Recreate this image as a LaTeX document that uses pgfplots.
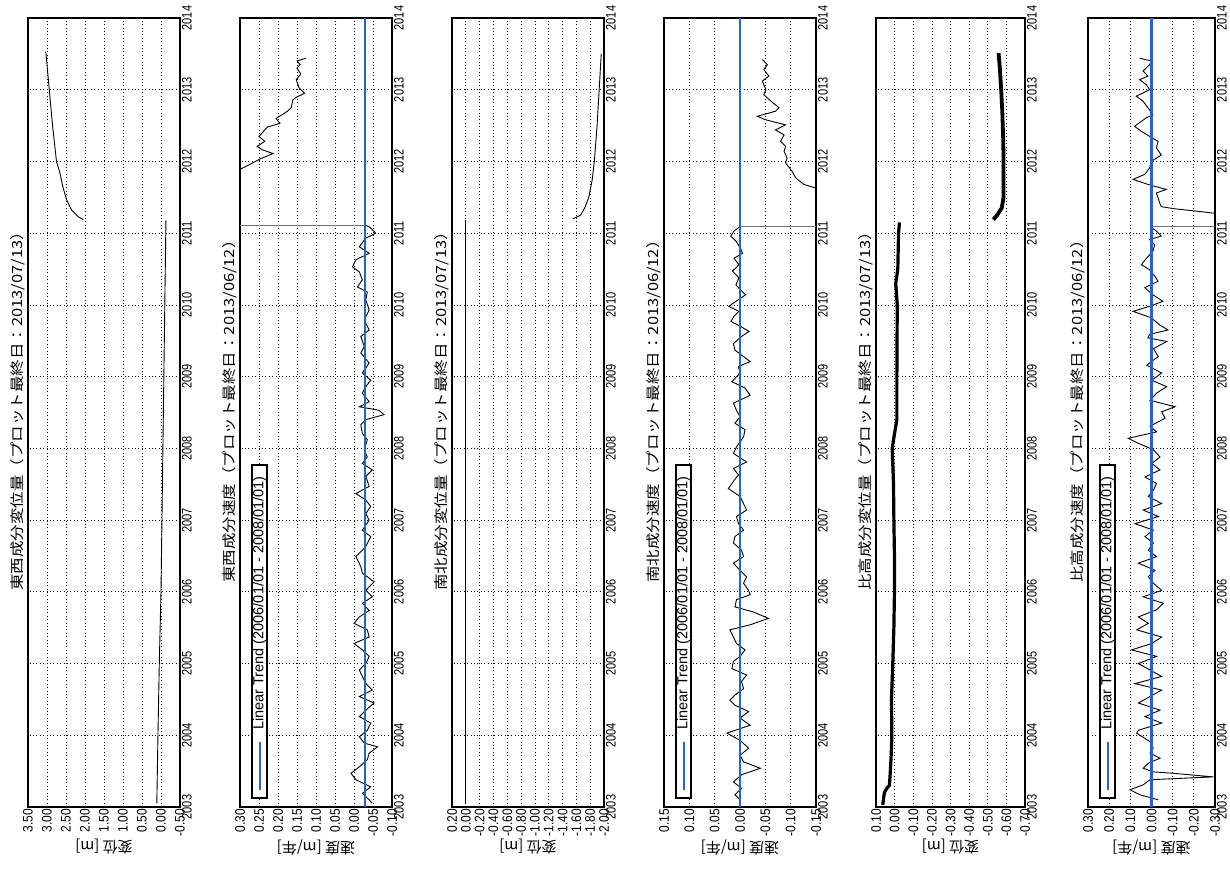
\documentclass[border=0pt]{standalone}
\usepackage{fontspec}
\setmainfont{Liberation Sans}
\newfontfamily\jp{Noto Sans CJK JP}
\usepackage{pgfplots}
\pgfplotsset{compat=1.18}
\definecolor{trendblue}{RGB}{45,95,205}
\pgfplotsset{
  panel/.style={
    scale only axis, height=789pt, anchor=south west,
    x dir=reverse, ymin=2003, ymax=2014,
    ytick={2003,2004,...,2014},
    yticklabels={2003,2004,2005,2006,2007,2008,2009,2010,2011,2012,2013,2014},
    yticklabel pos=right,
    every y tick label/.append style={rotate=90, yscale=1.25, anchor=north, font=\fontsize{11}{11}\selectfont, inner sep=1.5pt},
    every x tick label/.append style={rotate=90, yscale=1.15, anchor=east, font=\fontsize{12}{12}\selectfont, inner sep=1.5pt},
    major tick length=0pt,
    grid=major,
    major grid style={black, line width=0.7pt, dash pattern=on 0.8pt off 2.6pt},
    axis line style={line width=1.6pt},
    clip=false,
  },
}
\newcommand\paneltitle[1]{\node[rotate=90, yscale=0.85, anchor=south, inner sep=3pt, font=\jp\fontsize{16.5}{16.5}\selectfont] at ([yshift=5pt]axis description cs:0,0.5) {#1};}
\newcommand\panellabel[1]{\node[rotate=180, font=\jp\fontsize{15}{15}\selectfont] at ([yshift=-40pt]axis description cs:0.5,0) {#1};}
\newcommand\trendlegend{%
 \draw[black, line width=1.4pt, fill=white] ([xshift=12pt,yshift=9pt]axis description cs:0,0) rectangle ([xshift=27pt,yshift=342pt]axis description cs:0,0);
 \path[draw=trendblue, line width=2pt] ([xshift=19.5pt,yshift=17pt]axis description cs:0,0) -- ([xshift=19.5pt,yshift=65pt]axis description cs:0,0);
 \node[rotate=90, anchor=west, font=\fontsize{14.5}{14.5}\selectfont, inner sep=0pt] at ([xshift=19.5pt,yshift=77pt]axis description cs:0,0) {Linear Trend (2006/01/01 - 2008/01/01)};
}
\begin{document}
\begin{tikzpicture}
\useasboundingbox (0,0) rectangle (1230pt,870pt);
% ---------------- Panel 1: EW displacement
\begin{axis}[panel, at={(28pt,63pt)}, width=152pt,
  xmin=-0.5, xmax=3.5, xtick={-0.5,0,0.5,1,1.5,2,2.5,3,3.5},
  xticklabels={-0.50,0.00,0.50,1.00,1.50,2.00,2.50,3.00,3.50}]
\addplot[black, line width=0.9pt] coordinates {(0.11,2003.05)(0.08,2004)(0.045,2005)(0.0,2006)(-0.025,2007)(-0.05,2008)(-0.075,2009)(-0.10,2010)(-0.13,2011.18)};
\addplot[black, line width=0.9pt] coordinates {(2.05,2011.19)(2.18,2011.23)(2.35,2011.32)(2.48,2011.46)(2.58,2011.64)(2.66,2011.84)(2.75,2012.0)(2.85,2012.48)(2.94,2013.0)(3.03,2013.53)};
\paneltitle{東西成分変位量（プロット最終日：2013/07/13）}
\panellabel{変位 [m]}
\end{axis}
% ---------------- Panel 2: EW velocity
\begin{axis}[panel, at={(240pt,63pt)}, width=152pt,
  xmin=-0.1, xmax=0.3, xtick={-0.1,-0.05,0,0.05,0.1,0.15,0.2,0.25,0.3},
  xticklabels={-0.10,-0.05,0.00,0.05,0.10,0.15,0.20,0.25,0.30}]
\addplot[black, line width=0.9pt] coordinates {(-0.048,2003.05)(-0.040,2003.10)(-0.022,2003.19)(-0.044,2003.28)(-0.005,2003.38)(0.008,2003.47)(-0.014,2003.56)(-0.035,2003.66)(-0.040,2003.75)(-0.062,2003.84)(-0.027,2003.89)(-0.014,2003.98)(-0.035,2004.07)(-0.044,2004.17)(-0.014,2004.26)(-0.031,2004.35)(-0.053,2004.45)(-0.014,2004.54)(-0.048,2004.63)(-0.031,2004.72)(-0.022,2004.82)(-0.014,2004.91)(-0.031,2005.00)(-0.040,2005.10)(-0.022,2005.19)(0.000,2005.28)(-0.040,2005.37)(-0.035,2005.47)(0.000,2005.56)(-0.014,2005.65)(-0.040,2005.74)(-0.022,2005.84)(-0.048,2005.93)(-0.031,2006.02)(-0.053,2006.14)(-0.022,2006.26)(-0.018,2006.35)(-0.005,2006.49)(-0.031,2006.63)(-0.044,2006.77)(-0.022,2006.86)(-0.040,2007.00)(-0.031,2007.09)(-0.044,2007.19)(-0.031,2007.28)(-0.005,2007.37)(-0.040,2007.47)(-0.031,2007.61)(-0.048,2007.70)(-0.022,2007.79)(-0.035,2007.88)(-0.027,2007.98)(-0.035,2008.12)(-0.022,2008.21)(-0.018,2008.33)(-0.031,2008.40)(-0.079,2008.47)(-0.066,2008.53)(-0.014,2008.58)(-0.040,2008.65)(-0.022,2008.77)(-0.031,2008.86)(-0.044,2008.95)(-0.022,2009.05)(-0.040,2009.19)(-0.018,2009.33)(-0.027,2009.42)(-0.018,2009.56)(-0.040,2009.65)(-0.027,2009.79)(-0.040,2009.93)(-0.031,2010.07)(-0.035,2010.18)(-0.009,2010.25)(-0.022,2010.35)(-0.014,2010.46)(0.004,2010.53)(-0.005,2010.63)(-0.040,2010.72)(-0.014,2010.81)(-0.031,2010.93)(-0.057,2011.00)(-0.040,2011.09)(-0.029,2011.11)};
\addplot[black!55, line width=0.7pt] coordinates {(-0.029,2011.11)(0.30,2011.11)};
\addplot[black, line width=0.9pt] coordinates {(0.300,2011.89)(0.296,2011.90)(0.270,2011.97)(0.245,2012.04)(0.213,2012.11)(0.240,2012.16)(0.255,2012.21)(0.235,2012.28)(0.250,2012.35)(0.238,2012.42)(0.228,2012.48)(0.195,2012.53)(0.205,2012.60)(0.190,2012.65)(0.175,2012.70)(0.165,2012.75)(0.161,2012.86)(0.150,2012.90)(0.130,2012.95)(0.145,2013.03)(0.152,2013.14)(0.140,2013.22)(0.150,2013.30)(0.142,2013.35)(0.150,2013.40)(0.126,2013.44)};
\addplot[draw=trendblue, solid, line width=2.1pt, forget plot] coordinates {(-0.03,2003)(-0.03,2008.5)(-0.03,2014)};
\paneltitle{東西成分速度（プロット最終日：2013/06/12）}
\panellabel{速度 [m/年]}
\trendlegend
\end{axis}
% ---------------- Panel 3: NS displacement
\begin{axis}[panel, at={(452pt,63pt)}, width=152pt,
  xmin=-2, xmax=0.2, xtick={-2,-1.8,-1.6,-1.4,-1.2,-1,-0.8,-0.6,-0.4,-0.2,0,0.2},
  xticklabels={-2.00,-1.80,-1.60,-1.40,-1.20,-1.00,-0.80,-0.60,-0.40,-0.20,0.00,0.20}]
\addplot[black, line width=0.9pt] coordinates {(0.0,2003.05)(0.0,2007)(0.0,2011.18)};
\addplot[black, line width=0.9pt] coordinates {(-1.55,2011.20)(-1.66,2011.25)(-1.72,2011.35)(-1.78,2011.5)(-1.83,2011.75)(-1.86,2012)(-1.90,2012.5)(-1.93,2013)(-1.96,2013.5)};
\paneltitle{南北成分変位量（プロット最終日：2013/07/13）}
\panellabel{変位 [m]}
\end{axis}
% ---------------- Panel 4: NS velocity
\begin{axis}[panel, at={(664pt,63pt)}, width=152pt,
  xmin=-0.15, xmax=0.15, xtick={-0.15,-0.1,-0.05,0,0.05,0.1,0.15},
  xticklabels={-0.15,-0.10,-0.05,0.00,0.05,0.10,0.15}]
\addplot[black, line width=0.9pt] coordinates {(0.000,2003.10)(0.010,2003.17)(-0.003,2003.26)(0.013,2003.35)(-0.003,2003.45)(-0.040,2003.54)(-0.007,2003.63)(0.000,2003.72)(-0.017,2003.82)(0.000,2003.93)(0.026,2004.03)(-0.020,2004.14)(0.000,2004.24)(-0.017,2004.33)(0.010,2004.42)(0.020,2004.49)(0.010,2004.56)(-0.007,2004.65)(-0.003,2004.75)(-0.013,2004.84)(0.016,2004.93)(0.013,2005.03)(0.000,2005.10)(-0.010,2005.19)(0.007,2005.28)(0.013,2005.37)(0.020,2005.47)(-0.020,2005.54)(-0.056,2005.63)(-0.026,2005.72)(0.010,2005.79)(0.007,2005.89)(-0.020,2005.96)(-0.017,2006.02)(-0.007,2006.12)(-0.013,2006.21)(0.000,2006.30)(0.013,2006.40)(-0.007,2006.49)(-0.003,2006.58)(0.013,2006.68)(0.010,2006.77)(-0.007,2006.86)(0.003,2006.95)(0.007,2007.05)(-0.013,2007.14)(-0.007,2007.23)(0.000,2007.33)(0.023,2007.44)(0.013,2007.54)(0.003,2007.63)(0.013,2007.72)(-0.013,2007.81)(0.013,2007.93)(0.007,2008.02)(-0.007,2008.16)(-0.010,2008.26)(0.010,2008.35)(0.000,2008.44)(0.007,2008.53)(0.013,2008.63)(-0.020,2008.74)(-0.010,2008.84)(0.016,2008.93)(0.000,2009.05)(0.003,2009.14)(-0.020,2009.21)(-0.007,2009.28)(0.010,2009.37)(0.013,2009.46)(-0.003,2009.56)(-0.018,2009.63)(-0.001,2009.70)(0.018,2009.77)(0.012,2009.84)(0.002,2009.91)(0.022,2009.98)(0.008,2010.05)(-0.011,2010.14)(-0.001,2010.21)(0.008,2010.28)(0.002,2010.38)(0.015,2010.47)(0.002,2010.56)(0.012,2010.65)(-0.005,2010.72)(-0.001,2010.79)(0.008,2010.89)(0.018,2010.96)(0.012,2011.03)(0.000,2011.09)};
\addplot[black!55, line width=0.7pt] coordinates {(0.0,2011.10)(-0.15,2011.10)};
\addplot[black, line width=0.9pt] coordinates {(-0.150,2011.62)(-0.149,2011.63)(-0.126,2011.68)(-0.110,2011.77)(-0.103,2011.86)(-0.090,2011.98)(-0.093,2012.05)(-0.087,2012.14)(-0.090,2012.21)(-0.080,2012.28)(-0.087,2012.37)(-0.070,2012.44)(-0.090,2012.51)(-0.051,2012.58)(-0.034,2012.63)(-0.070,2012.70)(-0.077,2012.75)(-0.061,2012.84)(-0.047,2012.93)(-0.051,2013.00)(-0.044,2013.12)(-0.057,2013.19)(-0.047,2013.28)(-0.054,2013.35)(-0.044,2013.42)};
\addplot[draw=trendblue, solid, line width=2.1pt, forget plot] coordinates {(0,2003)(0,2008.5)(0,2014)};
\paneltitle{南北成分速度（プロット最終日：2013/06/12）}
\panellabel{速度 [m/年]}
\trendlegend
\end{axis}
% ---------------- Panel 5: vertical displacement
\begin{axis}[panel, at={(876pt,63pt)}, width=149pt,
  xmin=-0.7, xmax=0.1, xtick={-0.7,-0.6,-0.5,-0.4,-0.3,-0.2,-0.1,0,0.1},
  xticklabels={-0.70,-0.60,-0.50,-0.40,-0.30,-0.20,-0.10,0.00,0.10}]
\addplot[black, line width=3.2pt, line join=round] coordinates {(0.064,2003.03)(0.060,2003.1)(0.055,2003.2)(0.040,2003.27)(0.028,2003.3)(0.023,2003.5)(0.018,2003.75)(0.015,2004)(0.017,2004.5)(0.010,2005)(0.004,2005.5)(0.001,2006)(0.001,2006.5)(0.004,2007)(0.006,2007.5)(0.013,2008)(0.001,2008.2)(-0.012,2008.4)(-0.012,2009)(-0.013,2009.5)(-0.014,2010)(-0.006,2010.3)(-0.017,2010.5)(-0.021,2011)(-0.026,2011.15)};
\addplot[black, line width=3.8pt, line join=round] coordinates {(-0.530,2011.19)(-0.55,2011.25)(-0.575,2011.35)(-0.585,2011.5)(-0.585,2011.7)(-0.585,2012)(-0.583,2012.3)(-0.578,2012.7)(-0.572,2013)(-0.565,2013.3)(-0.558,2013.51)};
\paneltitle{比高成分変位量（プロット最終日：2013/07/13）}
\panellabel{変位 [m]}
\end{axis}
% ---------------- Panel 6: vertical velocity
\begin{axis}[panel, at={(1088pt,63pt)}, width=127pt,
  xmin=-0.3, xmax=0.3, xtick={-0.3,-0.2,-0.1,0,0.1,0.2,0.3},
  xticklabels={-0.30,-0.20,-0.10,0.00,0.10,0.20,0.30}]
\addplot[black, line width=0.9pt] coordinates {(-0.032,2003.10)(0.054,2003.17)(0.102,2003.24)(0.039,2003.31)(0.007,2003.38)(-0.292,2003.42)(-0.103,2003.47)(-0.008,2003.49)(0.039,2003.54)(0.015,2003.61)(-0.040,2003.68)(0.007,2003.75)(-0.008,2003.82)(0.007,2003.91)(0.070,2004.03)(0.062,2004.07)(-0.048,2004.17)(0.031,2004.26)(-0.040,2004.35)(0.062,2004.45)(0.007,2004.54)(-0.048,2004.63)(0.078,2004.72)(-0.048,2004.82)(0.007,2004.91)(0.062,2005.00)(-0.024,2005.10)(0.094,2005.19)(-0.001,2005.28)(-0.048,2005.37)(0.070,2005.47)(0.015,2005.56)(0.062,2005.65)(-0.024,2005.75)(-0.056,2005.84)(0.039,2005.93)(-0.048,2006.02)(-0.009,2006.12)(0.015,2006.21)(-0.016,2006.30)(0.062,2006.40)(-0.024,2006.49)(0.015,2006.58)(-0.009,2006.68)(0.031,2006.77)(-0.009,2006.86)(0.078,2006.95)(-0.032,2007.05)(0.039,2007.14)(-0.048,2007.23)(0.015,2007.33)(-0.009,2007.42)(-0.024,2007.51)(0.031,2007.60)(-0.040,2007.70)(-0.001,2007.79)(-0.040,2007.88)(-0.009,2007.98)(0.062,2008.07)(0.110,2008.14)(-0.024,2008.23)(0.007,2008.31)(-0.064,2008.42)(-0.048,2008.51)(-0.111,2008.58)(0.007,2008.67)(-0.024,2008.77)(-0.072,2008.86)(-0.001,2008.95)(-0.048,2009.05)(0.023,2009.16)(-0.032,2009.28)(-0.009,2009.39)(-0.072,2009.49)(0.017,2009.54)(0.009,2009.59)(-0.078,2009.65)(-0.039,2009.72)(0.001,2009.82)(0.087,2009.91)(0.009,2009.98)(-0.054,2010.05)(-0.007,2010.14)(0.032,2010.24)(-0.031,2010.33)(-0.015,2010.40)(0.009,2010.49)(0.048,2010.56)(0.024,2010.65)(-0.007,2010.75)(-0.015,2010.84)(0.009,2010.91)(-0.046,2010.96)(-0.023,2011.03)(0.001,2011.08)};
\addplot[black!55, line width=0.7pt] coordinates {(0.001,2011.10)(-0.30,2011.10)};
\addplot[black, line width=0.9pt] coordinates {(-0.300,2011.275)(-0.291,2011.28)(-0.204,2011.31)(-0.109,2011.34)(-0.046,2011.37)(-0.039,2011.42)(-0.031,2011.49)(-0.023,2011.56)(-0.070,2011.61)(0.017,2011.68)(0.087,2011.75)(0.032,2011.82)(0.009,2011.91)(0.001,2012.00)(-0.046,2012.09)(-0.023,2012.19)(-0.031,2012.28)(0.009,2012.35)(0.048,2012.42)(0.080,2012.49)(0.024,2012.61)(-0.007,2012.65)(0.017,2012.75)(0.040,2012.84)(0.072,2012.91)(0.009,2013.00)(0.024,2013.07)(0.056,2013.14)(0.017,2013.19)(0.040,2013.26)(0.009,2013.35)(0.001,2013.40)(0.056,2013.44)};
\addplot[draw=trendblue, solid, line width=2.1pt, forget plot] coordinates {(0,2003)(0,2008.5)(0,2014)};
\paneltitle{比高成分速度（プロット最終日：2013/06/12）}
\panellabel{速度 [m/年]}
\trendlegend
\end{axis}
\end{tikzpicture}
\end{document}
